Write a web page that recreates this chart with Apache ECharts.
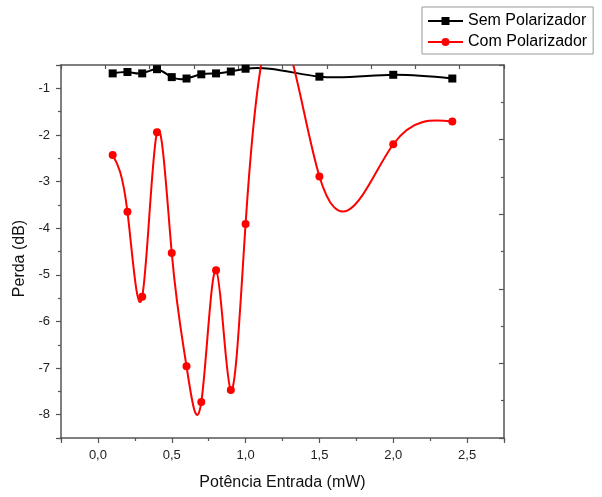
<!DOCTYPE html>
<html>
<head>
<meta charset="utf-8">
<script src="https://cdn.jsdelivr.net/npm/echarts@6/dist/echarts.min.js"></script>
<style>
html,body{margin:0;padding:0;background:#fff;}
#chart{width:602px;height:497px;}
</style>
</head>
<body>
<div id="chart"></div>
<script>
// ---- data ----
const seriesNames = ['Sem Polarizador', 'Com Polarizador'];
const xValues = [0.1, 0.2, 0.3, 0.4, 0.5, 0.6, 0.7, 0.8, 0.9, 1.0, 1.5, 2.0, 2.4];
const semPolarizador = [-0.68, -0.65, -0.68, -0.59, -0.76, -0.79, -0.70, -0.68, -0.64, -0.58, -0.75, -0.71, -0.79];
const comPolarizador = [-2.43, -3.65, -5.47, -1.94, -4.53, -6.96, -7.73, -4.90, -7.47, -3.91, -2.89, -2.20, -1.71];
const xTickValues = [0, 0.5, 1.0, 1.5, 2.0, 2.5];
const xTickLabels = ['0,0', '0,5', '1,0', '1,5', '2,0', '2,5'];
const yTickValues = [-1, -2, -3, -4, -5, -6, -7, -8];
const yTickLabels = ['-1', '-2', '-3', '-4', '-5', '-6', '-7', '-8'];

const FONT = 'Liberation Sans, Arial, sans-serif';
const AXIS_COLOR = '#555';

function lookupLabel(values, labels, v) {
  for (let i = 0; i < values.length; i++) {
    if (Math.abs(values[i] - v) < 1e-6) return labels[i];
  }
  return '';
}

// slopes of a natural cubic spline through the data (for drawing the curve)
function splineSlopes(xs, ys) {
  const n = xs.length, h = [], M = new Array(n).fill(0);
  for (let i = 0; i < n - 1; i++) h.push(xs[i + 1] - xs[i]);
  const a = [], b = [], c = [], d = [];
  for (let i = 1; i < n - 1; i++) {
    a.push(h[i - 1]); b.push(2 * (h[i - 1] + h[i])); c.push(h[i]);
    d.push(6 * ((ys[i + 1] - ys[i]) / h[i] - (ys[i] - ys[i - 1]) / h[i - 1]));
  }
  const m = b.length;
  for (let i = 1; i < m; i++) {
    const w = a[i] / b[i - 1];
    b[i] -= w * c[i - 1];
    d[i] -= w * d[i - 1];
  }
  const sol = new Array(m);
  sol[m - 1] = d[m - 1] / b[m - 1];
  for (let i = m - 2; i >= 0; i--) sol[i] = (d[i] - c[i] * sol[i + 1]) / b[i];
  for (let i = 0; i < m; i++) M[i + 1] = sol[i];
  const s = [];
  for (let i = 0; i < n - 1; i++) s.push((ys[i + 1] - ys[i]) / h[i] - h[i] * (2 * M[i] + M[i + 1]) / 6);
  s.push((ys[n - 1] - ys[n - 2]) / h[n - 2] + h[n - 2] * (M[n - 2] + 2 * M[n - 1]) / 6);
  return s;
}

function curveRenderer(xs, ys, color) {
  const slopes = splineSlopes(xs, ys);
  return function (params, api) {
    if (params.dataIndex !== 0) return null;
    const P = (x, y) => api.coord([x, y]);
    const p0 = P(xs[0], ys[0]);
    let d = 'M' + p0[0] + ' ' + p0[1];
    for (let i = 0; i < xs.length - 1; i++) {
      const hh = xs[i + 1] - xs[i];
      const c1 = P(xs[i] + hh / 3, ys[i] + slopes[i] * hh / 3);
      const c2 = P(xs[i + 1] - hh / 3, ys[i + 1] - slopes[i + 1] * hh / 3);
      const p1 = P(xs[i + 1], ys[i + 1]);
      d += ' C' + c1[0] + ' ' + c1[1] + ' ' + c2[0] + ' ' + c2[1] + ' ' + p1[0] + ' ' + p1[1];
    }
    const cs = params.coordSys;
    return {
      type: 'group',
      clipPath: { type: 'rect', shape: { x: cs.x, y: cs.y, width: cs.width, height: cs.height } },
      children: [{
        type: 'path',
        shape: { pathData: d },
        style: { fill: 'none', stroke: color, lineWidth: 2 }
      }]
    };
  };
}

const pairs = ys => xValues.map((x, i) => [x, ys[i]]);

const chart = echarts.init(document.getElementById('chart'), null, { renderer: 'canvas' });
const tickStyle = { color: AXIS_COLOR, width: 1.2 };

chart.setOption({
  animation: false,
  backgroundColor: '#fff',
  textStyle: { fontFamily: FONT },
  grid: { left: 61, top: 65, width: 443, height: 373, outerBoundsMode: 'none' },
  legend: {
    orient: 'vertical',
    left: 422, top: 7,
    padding: [6, 6, 4, 5],
    itemGap: 5,
    itemWidth: 35, itemHeight: 10,
    borderColor: '#999', borderWidth: 1,
    backgroundColor: '#fff',
    data: seriesNames,
    lineStyle: { opacity: 1, width: 2 },
    textStyle: { fontSize: 16, color: '#000', fontFamily: FONT }
  },
  xAxis: [
    {
      type: 'value', position: 'bottom', min: -0.25, max: 2.75, splitNumber: 6,
      axisLine: { onZero: false, lineStyle: { color: AXIS_COLOR, width: 1.5 } },
      axisTick: { show: true, inside: false, length: 5, lineStyle: tickStyle },
      axisLabel: { margin: 11, fontSize: 13, color: '#222', fontFamily: FONT,
        formatter: v => lookupLabel(xTickValues, xTickLabels, v) },
      splitLine: { show: false },
      name: 'Potência Entrada (mW)', nameLocation: 'middle', nameGap: 37,
      nameTextStyle: { fontSize: 16, color: '#111', fontFamily: FONT }
    },
    {
      type: 'value', position: 'bottom', min: 0, max: 3, interval: 0.5,
      axisLine: { show: false, onZero: false },
      axisTick: { show: true, inside: false, length: 3, lineStyle: tickStyle },
      axisLabel: { show: false }, splitLine: { show: false }
    },
    {
      type: 'value', position: 'top', min: 0, max: 10, interval: 1,
      axisLine: { onZero: false, lineStyle: { color: AXIS_COLOR, width: 1.5 } },
      axisTick: { show: true, inside: true, length: 4, lineStyle: tickStyle },
      axisLabel: { show: false }, splitLine: { show: false }
    }
  ],
  yAxis: [
    {
      type: 'value', position: 'left', min: -8.5, max: -0.5, splitNumber: 8,
      axisLine: { onZero: false, lineStyle: { color: AXIS_COLOR, width: 1.5 } },
      axisTick: { show: true, inside: false, length: 5, lineStyle: tickStyle },
      axisLabel: { margin: 11, fontSize: 13, color: '#222', fontFamily: FONT,
        formatter: v => lookupLabel(yTickValues, yTickLabels, v) },
      splitLine: { show: false },
      name: 'Perda (dB)', nameLocation: 'middle', nameGap: 28,
      nameTextStyle: { fontSize: 16, color: '#111', fontFamily: FONT, padding: [0, 14, 0, 0] }
    },
    {
      type: 'value', position: 'left', min: 0, max: 8, interval: 1,
      axisLine: { show: false, onZero: false },
      axisTick: { show: true, inside: false, length: 3, lineStyle: tickStyle },
      axisLabel: { show: false }, splitLine: { show: false }
    },
    {
      type: 'value', position: 'right', min: 0, max: 5, interval: 1,
      axisLine: { onZero: false, lineStyle: { color: AXIS_COLOR, width: 1.5 } },
      axisTick: { show: true, inside: true, length: 5, lineStyle: tickStyle },
      minorTick: { show: true, splitNumber: 2, length: 3, lineStyle: tickStyle },
      axisLabel: { show: false }, splitLine: { show: false }
    }
  ],
  series: [
    {
      name: 'curve-sem', type: 'custom', xAxisIndex: 0, yAxisIndex: 0, silent: true, clip: true,
      renderItem: curveRenderer(xValues, semPolarizador, '#000'),
      data: pairs(semPolarizador)
    },
    {
      name: seriesNames[0], type: 'line', xAxisIndex: 0, yAxisIndex: 0,
      data: pairs(semPolarizador),
      symbol: 'rect', symbolSize: 8, showSymbol: true,
      itemStyle: { color: '#000' },
      lineStyle: { color: '#000', width: 2, opacity: 0 },
      emphasis: { disabled: true }
    },
    {
      name: 'curve-com', type: 'custom', xAxisIndex: 0, yAxisIndex: 0, silent: true, clip: true,
      renderItem: curveRenderer(xValues, comPolarizador, '#ff0000'),
      data: pairs(comPolarizador)
    },
    {
      name: seriesNames[1], type: 'line', xAxisIndex: 0, yAxisIndex: 0,
      data: pairs(comPolarizador),
      symbol: 'circle', symbolSize: 8, showSymbol: true,
      itemStyle: { color: '#ff0000' },
      lineStyle: { color: '#ff0000', width: 2, opacity: 0 },
      emphasis: { disabled: true }
    }
  ]
});
</script>
</body>
</html>
